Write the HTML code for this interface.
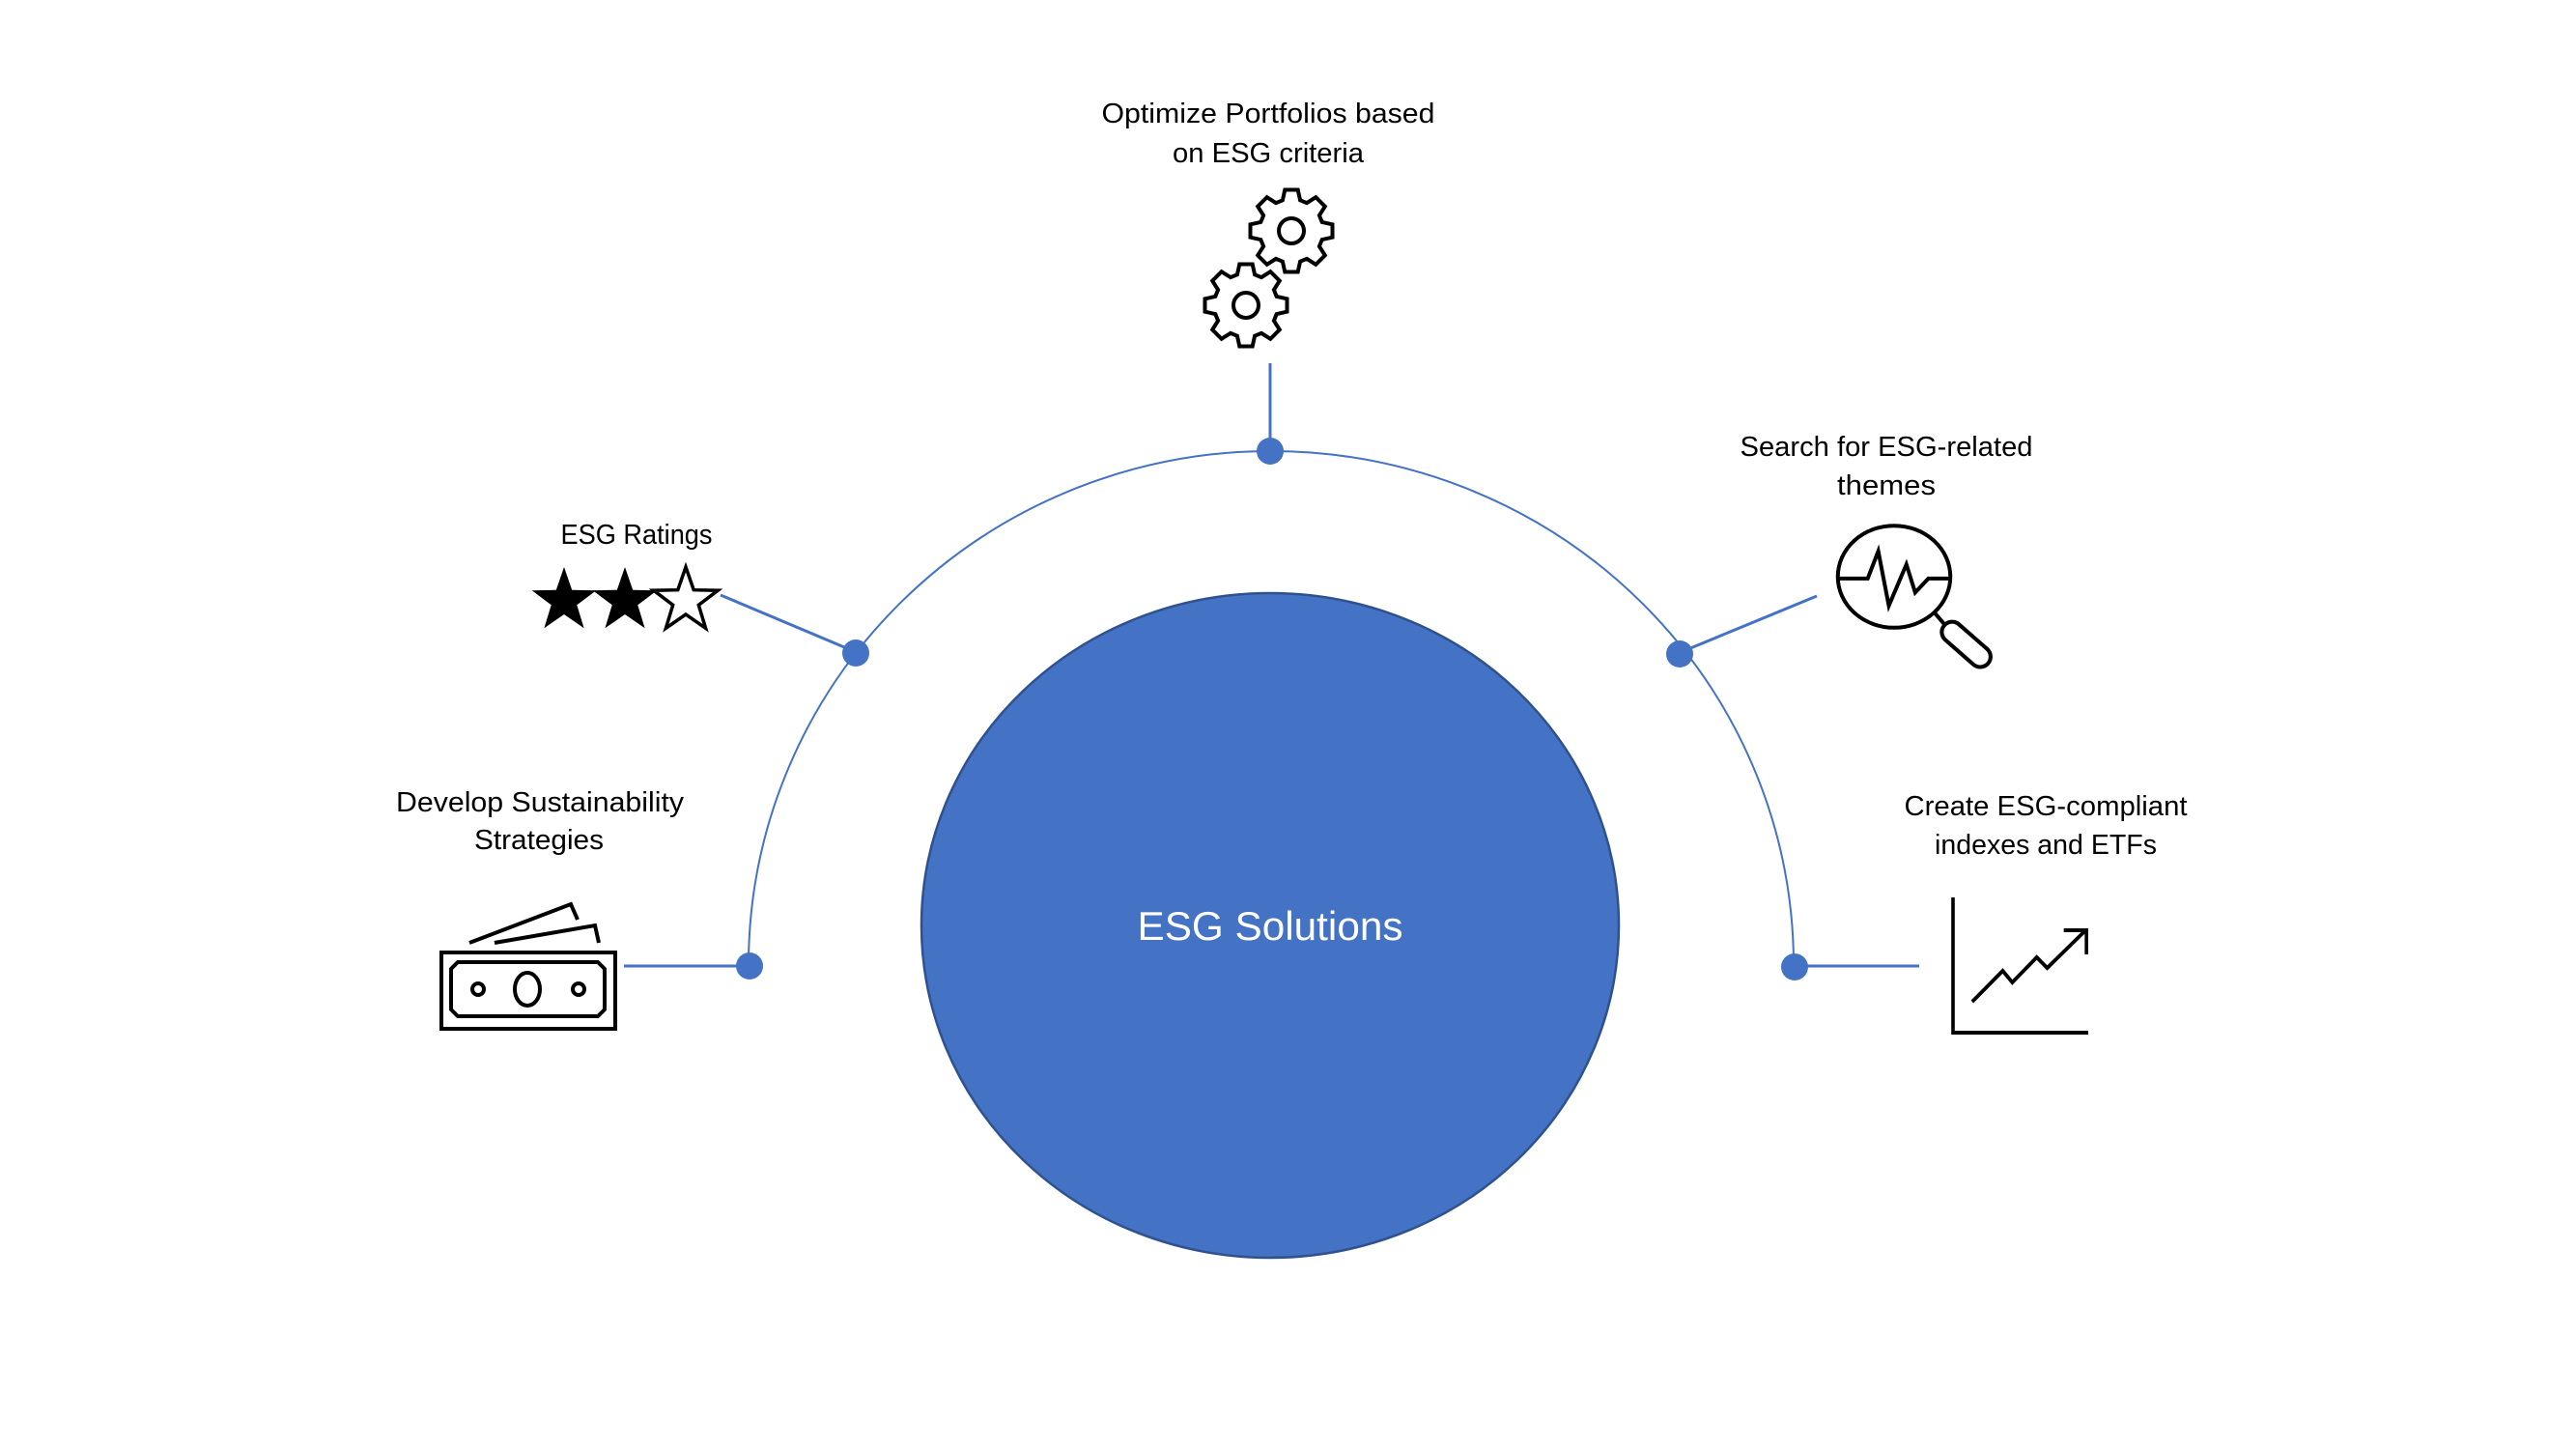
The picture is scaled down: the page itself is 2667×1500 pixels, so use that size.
<!DOCTYPE html>
<html><head><meta charset="utf-8"><style>
html,body{margin:0;padding:0;background:#fff;}
svg{display:block;}
text{font-family:"Liberation Sans",sans-serif;fill:#000;}
</style></head><body>
<svg width="2667" height="1500" viewBox="0 0 2667 1500" xmlns="http://www.w3.org/2000/svg">
<defs>
<polygon id="gear" points="31.7,-9.1 42.5,-6.7 42.5,6.7 31.7,9.1 28.9,16 34.8,25.3 25.3,34.8 16,28.9 9.1,31.7 6.7,42.5 -6.7,42.5 -9.1,31.7 -16,28.9 -25.3,34.8 -34.8,25.3 -28.9,16 -31.7,9.1 -42.5,6.7 -42.5,-6.7 -31.7,-9.1 -28.9,-16 -34.8,-25.3 -25.3,-34.8 -16,-28.9 -9.1,-31.7 -6.7,-42.5 6.7,-42.5 9.1,-31.7 16,-28.9 25.3,-34.8 34.8,-25.3 28.9,-16" fill="#fff" stroke="#000" stroke-width="4" stroke-linejoin="miter"/>
<polygon id="star" points="0,-35 8.2,-11.3 33.3,-10.8 13.3,4.3 20.6,28.3 0,14 -20.6,28.3 -13.3,4.3 -33.3,-10.8 -8.2,-11.3"/>
</defs>

<!-- arc -->
<path d="M775,999 A541,532 0 0 1 1857,999" fill="none" stroke="#4472C4" stroke-width="2"/>

<!-- main circle -->
<ellipse cx="1315" cy="958" rx="361" ry="344" fill="#4472C4" stroke="#2F528F" stroke-width="2.5"/>
<text x="1315" y="973" text-anchor="middle" font-size="42" style="fill:#fff" textLength="275" lengthAdjust="spacingAndGlyphs">ESG Solutions</text>

<!-- connectors -->
<g stroke="#4472C4" stroke-width="3">
<line x1="1315" y1="376" x2="1315" y2="467"/>
<line x1="746" y1="616" x2="886" y2="675"/>
<line x1="646" y1="1000" x2="775" y2="1000"/>
<line x1="1738" y1="676" x2="1881" y2="617"/>
<line x1="1857" y1="1000" x2="1987" y2="1000"/>
</g>
<g fill="#4472C4">
<circle cx="1315" cy="467" r="14"/>
<circle cx="886" cy="676" r="14"/>
<circle cx="776" cy="1000" r="14"/>
<circle cx="1739" cy="677" r="14"/>
<circle cx="1858" cy="1001" r="14"/>
</g>

<!-- labels -->
<text x="1313" y="127" text-anchor="middle" font-size="29" textLength="345" lengthAdjust="spacingAndGlyphs">Optimize Portfolios based</text>
<text x="1313" y="168" text-anchor="middle" font-size="29" textLength="198" lengthAdjust="spacingAndGlyphs">on ESG criteria</text>
<text x="659" y="563" text-anchor="middle" font-size="29" textLength="157" lengthAdjust="spacingAndGlyphs">ESG Ratings</text>
<text x="559" y="840" text-anchor="middle" font-size="29" textLength="298" lengthAdjust="spacingAndGlyphs">Develop Sustainability</text>
<text x="558" y="879" text-anchor="middle" font-size="29" textLength="134" lengthAdjust="spacingAndGlyphs">Strategies</text>
<text x="1953" y="472" text-anchor="middle" font-size="29" textLength="303" lengthAdjust="spacingAndGlyphs">Search for ESG-related</text>
<text x="1953" y="512" text-anchor="middle" font-size="29" textLength="102" lengthAdjust="spacingAndGlyphs">themes</text>
<text x="2118" y="844" text-anchor="middle" font-size="29" textLength="293" lengthAdjust="spacingAndGlyphs">Create ESG-compliant</text>
<text x="2118" y="884" text-anchor="middle" font-size="29" textLength="230" lengthAdjust="spacingAndGlyphs">indexes and ETFs</text>

<!-- gears -->
<use href="#gear" x="1337" y="239"/>
<circle cx="1337" cy="239" r="13" fill="none" stroke="#000" stroke-width="4"/>
<use href="#gear" x="1290" y="316"/>
<circle cx="1290" cy="316" r="13" fill="none" stroke="#000" stroke-width="4"/>

<!-- stars -->
<use href="#star" x="584" y="622" fill="#000"/>
<use href="#star" x="647" y="622" fill="#000"/>
<use href="#star" x="710" y="622" fill="#fff" stroke="#000" stroke-width="3.5"/>

<!-- money -->
<g fill="none" stroke="#000" stroke-width="4">
<rect x="457" y="986" width="180" height="79"/>
<path d="M474,996 L619,996 L626,1003 L626,1045 L619,1052 L474,1052 L467,1045 L467,1003 Z"/>
<circle cx="495" cy="1024" r="6"/>
<ellipse cx="546" cy="1024" rx="13" ry="17"/>
<circle cx="599" cy="1024" r="6"/>
<polyline points="486,976 591,936 598,952"/>
<polyline points="512,976 616,958 620,976"/>
</g>

<!-- magnifier -->
<g transform="translate(1961,597) scale(0.91) translate(-1990,-597)">
<g fill="none" stroke="#000" stroke-width="4.4">
<ellipse cx="1990" cy="597" rx="64" ry="58"/>
<polyline points="1926,599 1960,599 1972,568 1984,630 2004,583 2014,615 2029,599 2053,599"/>
<line x1="2036" y1="638" x2="2048" y2="652"/>
</g>
<line x1="2056" y1="660" x2="2088" y2="688" stroke="#000" stroke-width="28" stroke-linecap="round"/>
<line x1="2056" y1="660" x2="2088" y2="688" stroke="#fff" stroke-width="19" stroke-linecap="round"/>
</g>

<!-- chart -->
<g transform="translate(2022,929) scale(0.903,1) translate(-2057,-931)" fill="none" stroke="#000" stroke-width="4">
<polyline points="2057,931 2057,1071 2212,1071"/>
<polyline points="2079,1039 2114,1007 2125,1019 2153,993 2165,1004 2208,966"/>
<polyline points="2184,965 2210,965 2210,990"/>
</g>
</svg>
</body></html>
